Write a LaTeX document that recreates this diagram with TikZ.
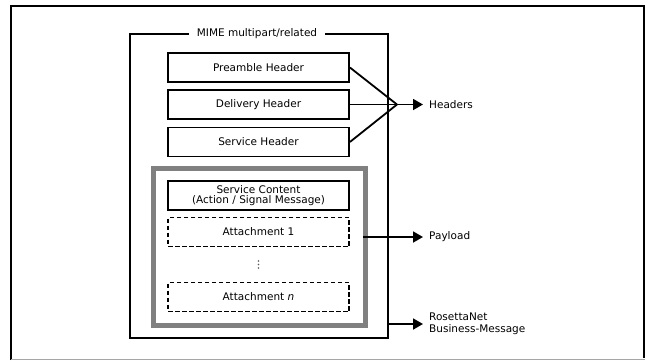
\documentclass[tikz,border=0pt]{standalone}
\usepackage{fontspec}
\setmainfont{DejaVu Sans}
\usetikzlibrary{arrows.meta}
\begin{document}
\begin{tikzpicture}[x=1pt,y=-1pt,
  every node/.style={font=\fontsize{10.5}{12}\selectfont},
  part/.style={draw=black,line width=1.8pt,minimum width=181pt,minimum height=29pt,inner sep=0pt,align=center},
  dpart/.style={part,line width=1.3pt,dash pattern=on 4.5pt off 2.5pt},
  conn/.style={line width=1.8pt},
  arr/.style={line width=1.8pt,-{Triangle[length=10pt,width=11pt]}},
  lbl/.style={anchor=west,align=left,inner sep=0pt},
  vdot/.style={circle,fill=gray!70!black,inner sep=0pt,minimum size=1.6pt}]
\useasboundingbox (0,0) rectangle (645,360);
% outer frame
\draw[line width=2.2pt] (11,360) -- (11,6) -- (644,6) -- (644,358);
\draw[gray!70,line width=1pt] (11,359.3) -- (645,359.3);
% MIME box
\draw[line width=1.8pt] (130,34) rectangle (388,338);
\node[fill=white,inner xsep=8pt,inner ysep=1pt] (title) at (257,34) {MIME multipart/related};
% header boxes
\node[part] (pre) at (258.5,67.5) {Preamble Header};
\node[part] (del) at (258.5,104.5) {Delivery Header};
\node[part] (srv) at (258.5,142) {Service Header};
% payload gray box
\draw[color={rgb,255:red,128;green,128;blue,128},line width=5pt] (153.5,168.5) rectangle (365.5,325.5);
\node[part] (cont) at (258.5,195.5) {Service Content\\[-1.5pt](Action / Signal Message)};
\node[dpart] (att1) at (258.5,232) {Attachment 1};
\node[vdot] (d1) at (258.5,261) {};
\node[vdot] (d2) at (258.5,264.5) {};
\node[vdot] (d3) at (258.5,268) {};
\node[dpart] (attn) at (258.5,297) {Attachment \textit{n}};
% Headers
\coordinate (J) at (397,104.5);
\draw[conn] (pre.east) -- (J);
\draw[conn] (del.east) -- (J);
\draw[conn] (srv.east) -- (J);
\node[lbl] (hdr) at (429,104.5) {Headers};
\draw[arr] (J) -- ([xshift=-6pt]hdr.west);
% Payload
\node[lbl] (pay) at (429,237) {Payload};
\coordinate (pstart) at (363,237);
\draw[arr] (pstart) -- ([xshift=-6pt]pay.west);
% RosettaNet
\node[lbl] (ros) at (429,324) {RosettaNet\\Business-Message};
\coordinate (rstart) at (388,324);
\draw[arr] (rstart) -- ([xshift=-6pt]ros.west);
\end{tikzpicture}
\end{document}
